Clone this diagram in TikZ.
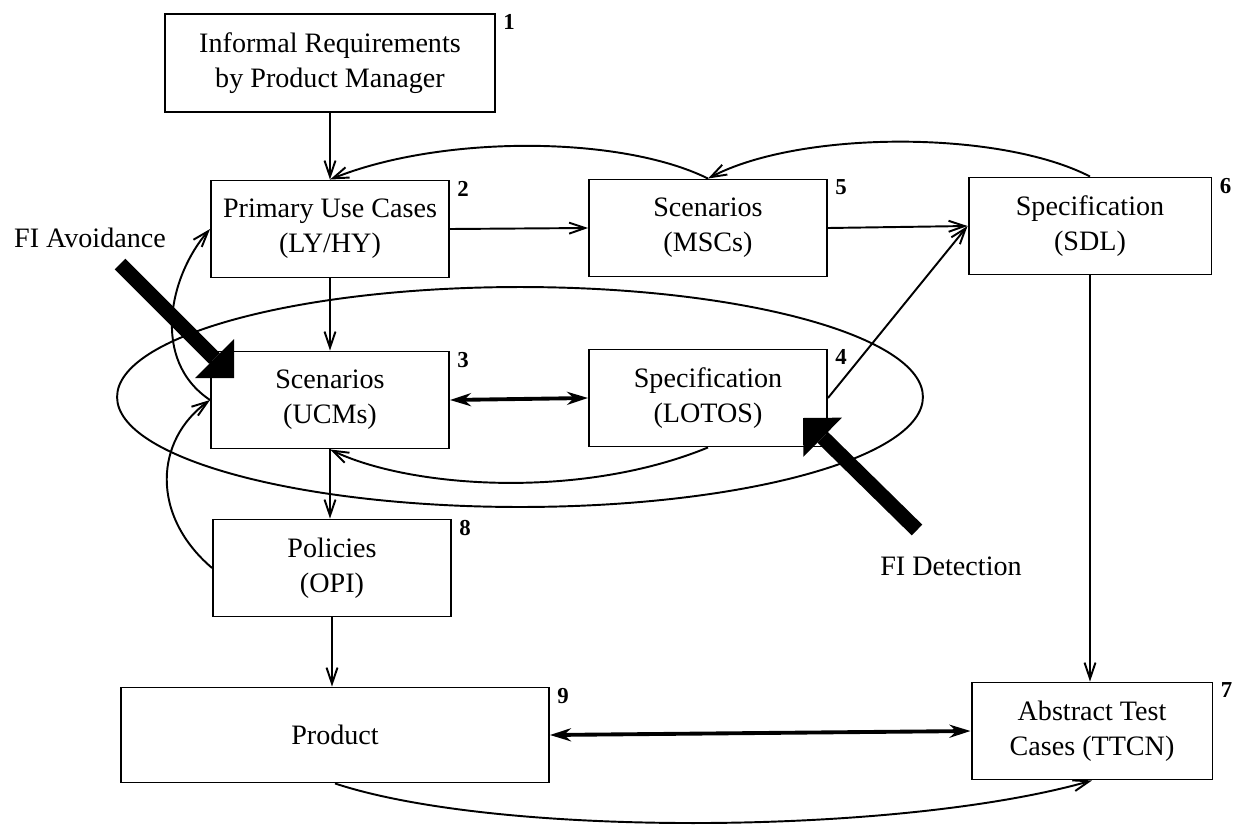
\documentclass[tikz,border=0pt]{standalone}
\usepackage{fontspec}
\setmainfont{Liberation Serif}
\usetikzlibrary{arrows.meta}
\tikzset{
  box/.style={draw, line width=1.1pt, align=center, minimum width=4.76cm, minimum height=1.94cm, inner sep=2pt, font=\fontsize{16}{20}\selectfont},
  num/.style={anchor=north west, inner sep=0pt, font=\fontsize{13}{13}\selectfont\bfseries},
  arr/.style={line width=1.1pt, -{Straight Barb[length=0.32cm, width=0.22cm]}},
  dbl/.style={line width=2.2pt, {Stealth[length=0.42cm, width=0.26cm]}-{Stealth[length=0.42cm, width=0.26cm]}},
  fi/.style={line width=0.3cm, -{Triangle[length=0.55cm, width=1.1cm, line width=0pt]}},
  filbl/.style={font=\fontsize{16}{20}\selectfont}
}
\begin{document}
\begin{tikzpicture}[x=0.02cm, y=-0.02cm]
\useasboundingbox (0,0) rectangle (1233,825);
\node[box, minimum width=6.6cm, minimum height=1.96cm] (b1) at (330,63) {Informal Requirements\\by Product Manager};
\node[box] (b2) at (330,229) {Primary Use Cases\\(LY/HY)};
\node[box] (b5) at (708,228) {Scenarios\\(MSCs)};
\node[box, minimum width=4.86cm] (b6) at (1090,226) {Specification\\(SDL)};
\node[box] (b3) at (330,400) {Scenarios\\(UCMs)};
\node[box] (b4) at (708,398) {Specification\\(LOTOS)};
\node[box] (b8) at (332,568) {Policies\\(OPI)};
\node[box, minimum width=8.56cm, minimum height=1.9cm] (b9) at (335,735) {Product};
\node[box, minimum width=4.82cm] (b7) at (1092,731) {Abstract Test\\Cases (TTCN)};
\foreach \b/\k in {b1/1,b2/2,b3/3,b4/4,b5/5,b6/6,b7/7,b8/8,b9/9}
  \node[num] (n\k) at ([xshift=0.14cm, yshift=-0.02cm]\b.north east) {\k};
\draw[line width=1.1pt] (520,397) ellipse [x radius=8.06cm, y radius=2.2cm];
\draw[arr] (b1.south) -- (b2.north);
\draw[arr] (b2.east) -- (b5.west);
\draw[arr] (b5.east) -- (b6.west);
\draw[arr] (b4.east) -- (b6.west);
\draw[arr] (b6.south) -- (b6.south |- b7.north);
\draw[arr] (b2.south) -- (b3.north);
\draw[dbl] (b3.east) -- (b4.west);
\draw[arr] (b3.south) -- (b3.south |- b8.north);
\draw[arr] (b8.south) -- (b8.south |- b9.north);
\draw[dbl] (b9.east) -- (b7.west);
\draw[arr] (b5.north) .. controls (620,135) and (440,135) .. (b2.north);
\draw[arr] (b6.north) .. controls (1000,130) and (800,130) .. (b5.north);
\draw[arr] (b4.south) .. controls (580,500) and (410,488) .. (b3.south);
\draw[arr] (b9.south) .. controls (500,838) and (900,835) .. (b7.south);
\draw[arr] (b3.west) .. controls (150,360) and (170,275) .. (b2.west);
\draw[arr] (b8.west) .. controls (150,515) and (155,440) .. (b3.west);
\coordinate (avtail) at (120,264);
\coordinate (avtip) at (234,378);
\draw[fi] (avtail) -- (avtip);
\node[filbl] (av) at (90,238) {FI Avoidance};
\coordinate (dettail) at (917,530);
\coordinate (dettip) at (803,418);
\draw[fi] (dettail) -- (dettip);
\node[filbl] (det) at (951,566) {FI Detection};
\end{tikzpicture}
\end{document}
